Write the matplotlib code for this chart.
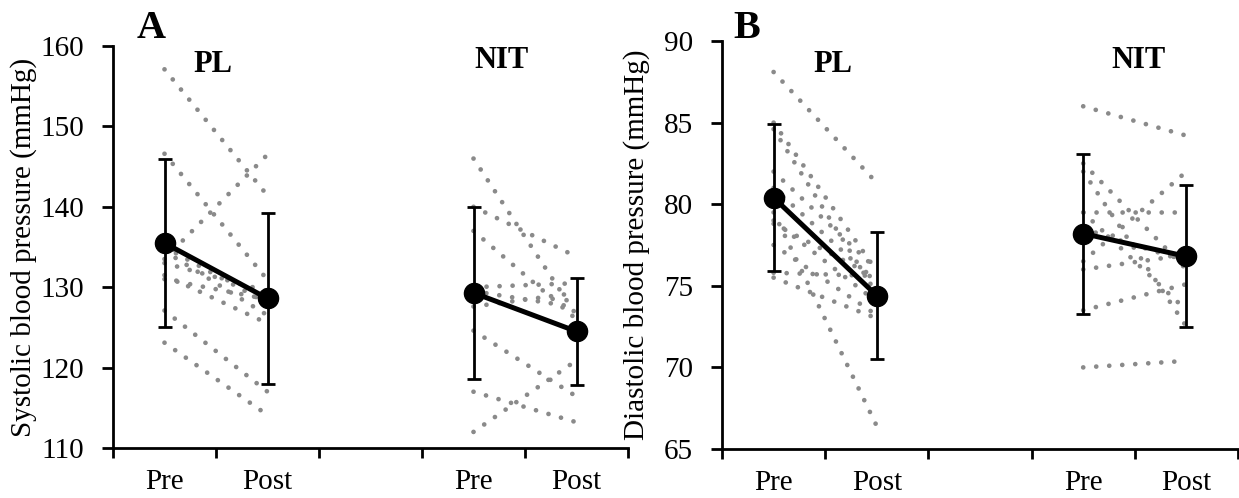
import numpy as np
import matplotlib.pyplot as plt

plt.rcParams['font.family'] = ['Liberation Serif', 'DejaVu Serif']

cats = ["Pre", "Post", "", "Pre", "Post"]

# systolic, individual subjects (pre, post)
sys_pl_pre = [157.1, 146.6, 133.5, 135.0, 134.5, 133.0, 131.5, 131.0, 127.1, 123.1]
sys_pl_post = [141.4, 130.9, 146.5, 128.0, 126.5, 129.5, 125.5, 128.5, 117.0, 114.1]
sys_nit_pre = [146.0, 140.0, 137.0, 130.0, 129.5, 127.6, 124.6, 117.0, 112.0]
sys_nit_post = [126.5, 133.8, 126.0, 130.5, 127.5, 129.3, 116.4, 113.2, 120.9]

# diastolic, individual subjects
dia_pl_pre = [88.1, 85.0, 84.6, 82.0, 81.0, 79.5, 79.0, 78.8, 77.5, 75.8, 75.5]
dia_pl_post = [81.3, 75.9, 74.5, 76.0, 75.2, 66.4, 74.0, 75.5, 73.2, 75.6, 73.0]
dia_nit_pre = [86.0, 82.5, 82.0, 79.5, 79.5, 78.5, 76.5, 76.0, 73.5, 70.0]
dia_nit_post = [84.2, 76.0, 72.5, 79.5, 73.5, 76.5, 82.0, 76.9, 75.1, 70.4]

# group means and SD (pre, post)
sys_pl_mean = [135.5, 128.6]
sys_pl_sd = [10.4, 10.6]
sys_nit_mean = [129.3, 124.5]
sys_nit_sd = [10.7, 6.7]
dia_pl_mean = [80.4, 74.4]
dia_pl_sd = [4.5, 3.9]
dia_nit_mean = [78.2, 76.8]
dia_nit_sd = [4.9, 4.35]

W, H = 1239, 498
fig = plt.figure(figsize=(W / 100, H / 100), dpi=100)


def px_axes(l, r, t, b):
    return fig.add_axes([l / W, 1 - b / H, (r - l) / W, (b - t) / H])


def draw_group(ax, x0, pre, post, mean, sd):
    for a, b in zip(pre, post):
        ax.plot([x0, x0 + 1], [a, b], color='#8a8a8a', lw=3.4,
                linestyle=(0, (0.01, 2.75)), dash_capstyle='round', zorder=1)
    ax.errorbar([x0, x0 + 1], mean, yerr=sd, color='black', lw=3.6,
                marker='o', markersize=14.5, elinewidth=2, capsize=5,
                capthick=2, zorder=3)


def style(ax, ylim, yticks, ylabel):
    ax.set_xlim(-0.5, 4.5)
    ax.set_ylim(*ylim)
    ax.set_yticks(yticks)
    ax.set_xticks(np.arange(-0.5, 5, 1))
    ax.set_xticklabels([])
    ax.set_xticks(range(5), minor=True)
    ax.set_xticklabels(cats, minor=True, fontsize=21)
    ax.tick_params(axis='x', which='minor', length=0, pad=15)
    ax.tick_params(axis='x', which='major', direction='out', length=7, width=2)
    ax.tick_params(axis='y', direction='out', length=8, width=2, pad=13,
                   labelsize=21)
    for s in ['top', 'right']:
        ax.spines[s].set_visible(False)
    for s in ['left', 'bottom']:
        ax.spines[s].set_linewidth(2)
    ax.set_ylabel(ylabel, fontsize=21)


axA = px_axes(113, 628, 46, 448)
draw_group(axA, 0, sys_pl_pre, sys_pl_post, sys_pl_mean, sys_pl_sd)
draw_group(axA, 3, sys_nit_pre, sys_nit_post, sys_nit_mean, sys_nit_sd)
style(axA, (110, 160), range(110, 161, 10), 'Systolic blood pressure (mmHg)')
axA.yaxis.set_label_coords(-0.148, 0.5)
axA.text(0.074, 1.02, 'A', transform=axA.transAxes, fontsize=29,
         fontweight='bold', ha='center', va='baseline')
axA.text(0.194, 0.935, 'PL', transform=axA.transAxes, fontsize=22,
         fontweight='bold', ha='center', va='baseline')
axA.text(0.755, 0.945, 'NIT', transform=axA.transAxes, fontsize=22,
         fontweight='bold', ha='center', va='baseline')

axB = px_axes(722, 1238, 41, 449)
draw_group(axB, 0, dia_pl_pre, dia_pl_post, dia_pl_mean, dia_pl_sd)
draw_group(axB, 3, dia_nit_pre, dia_nit_post, dia_nit_mean, dia_nit_sd)
style(axB, (65, 90), range(65, 91, 5), 'Diastolic blood pressure (mmHg)')
axB.yaxis.set_label_coords(-0.14, 0.5)
axB.text(0.048, 1.007, 'B', transform=axB.transAxes, fontsize=29,
         fontweight='bold', ha='center', va='baseline')
axB.text(0.215, 0.924, 'PL', transform=axB.transAxes, fontsize=22,
         fontweight='bold', ha='center', va='baseline')
axB.text(0.808, 0.934, 'NIT', transform=axB.transAxes, fontsize=22,
         fontweight='bold', ha='center', va='baseline')

fig.savefig('out.png', dpi=100)
